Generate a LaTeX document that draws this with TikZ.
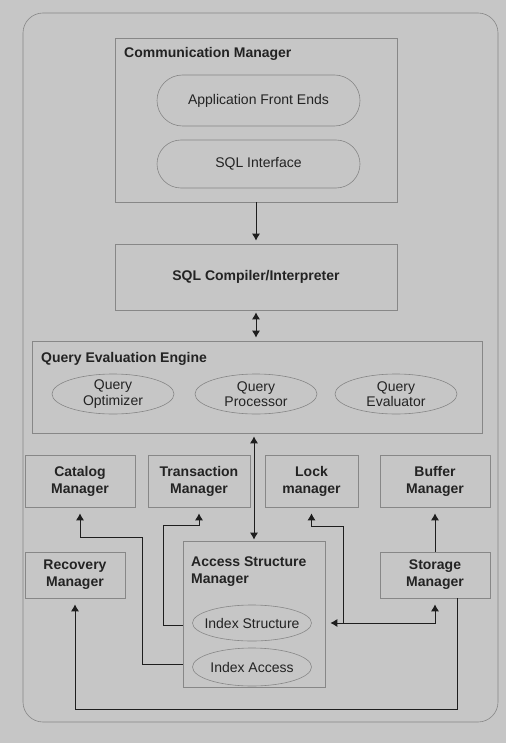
\documentclass[tikz,border=0pt]{standalone}
\usepackage{fontspec}
\setmainfont{Liberation Sans}
\usetikzlibrary{shapes.geometric,shapes.misc,arrows.meta}
\definecolor{bg}{RGB}{198,198,198}
\definecolor{edge}{RGB}{135,135,135}
\definecolor{ink}{RGB}{35,35,35}
\definecolor{wire}{RGB}{30,30,30}
\begin{document}
\begin{tikzpicture}[x=1pt,y=-1pt,
  every node/.style={font=\fontsize{14}{15.5}\selectfont, text=ink},
  box/.style={draw=edge, line width=0.6pt, rectangle, inner sep=0pt, align=center,
    font=\fontsize{14}{17}\selectfont\bfseries},
  pill/.style={draw=edge, line width=0.6pt, rounded rectangle, inner sep=0pt},
  oval/.style={draw=edge, line width=0.6pt, ellipse, inner xsep=-8pt, inner ysep=0pt, align=center},
  hd/.style={font=\fontsize{14}{17}\selectfont\bfseries, text=ink, inner sep=0pt},
  wire/.style={draw=wire, line width=0.9pt},
  tip/.style={-{Latex[length=7pt,width=8pt]}},
  both/.style={{Latex[length=7pt,width=8pt]}-{Latex[length=7pt,width=8pt]}},
]
\fill[bg] (0,0) rectangle (506,743);
\useasboundingbox (0,0) rectangle (506,743);
% outer frame
\draw[edge, line width=0.6pt, rounded corners=20pt] (23,13) rectangle (498,722);

% communication layer
\node[box, minimum width=282pt, minimum height=164pt] (comm) at (256,120) {};
\node[hd, anchor=west] (commt) at (124,54) {Communication Manager};
\node[pill, minimum width=203pt, minimum height=51pt] (afe) at (258.5,100.5) {Application Front Ends};
\node[pill, minimum width=203pt, minimum height=48pt] (sqli) at (258.5,164) {SQL Interface};

% compiler
\node[box, minimum width=282pt, minimum height=66pt] (sqlc) at (256,277) {SQL Compiler/Interpreter};

% query evaluation engine
\node[box, minimum width=450pt, minimum height=92pt] (qee) at (257,387) {};
\node[hd, anchor=west] (qeet) at (41,359) {Query Evaluation Engine};
\node[oval, minimum width=122pt, minimum height=40pt] (qopt) at (113,394) {Query\\Optimizer};
\node[oval, minimum width=122pt, minimum height=40pt] (qproc) at (256,394) {Query\\Processor};
\node[oval, minimum width=122pt, minimum height=40pt] (qeval) at (396,394) {Query\\Evaluator};

% managers
\node[box, minimum width=110pt, minimum height=52pt] (catalog) at (80,481) {Catalog\\Manager};
\node[box, minimum width=102pt, minimum height=52pt] (trans) at (199,481) {Transaction\\Manager};
\node[box, minimum width=93pt, minimum height=52pt] (lock) at (311.5,481) {Lock\\manager};
\node[box, minimum width=110pt, minimum height=52pt] (buffer) at (435,481) {Buffer\\Manager};
\node[box, minimum width=100pt, minimum height=46pt] (recovery) at (75,575) {Recovery\\Manager};
\node[box, minimum width=110pt, minimum height=46pt] (storage) at (435,575) {Storage\\Manager};

% access structure manager
\node[box, minimum width=142pt, minimum height=146pt] (asm) at (254,614) {};
\node[hd, anchor=west, align=left] (asmt) at (191,571.5) {Access Structure\\Manager};
\node[oval, minimum width=119pt, minimum height=36pt] (idxs) at (252,623) {Index Structure};
\node[oval, minimum width=119pt, minimum height=38pt] (idxa) at (252,667) {Index Access};

% junction points of the routed wires
\coordinate (jc) at (142,537);
\coordinate (jt) at (163,525);
\coordinate (jl) at (343,526);
\coordinate (jr) at (457,709);

% connectors
\draw[wire,tip,shorten >=3pt] (comm.south) -- (sqlc.north);
\draw[wire,both,shorten <=2pt,shorten >=3pt] (sqlc.south) -- (sqlc.south |- qee.north);
\draw[wire,both,shorten <=3pt,shorten >=1pt] (asm.north |- qee.south) -- (asm.north);
\draw[wire,tip,shorten >=6pt] ([yshift=3pt]asm.west |- idxa.center) -| (jc) -| (catalog.south);
\draw[wire,tip,shorten >=6pt] ([yshift=-2pt]asm.west |- idxs.center) -| (jt) -| (trans.south);
\draw[wire,tip,shorten >=6pt] (jl |- idxs.center) -- (jl) -| (lock.south);
\draw[wire,both,shorten <=5pt,shorten >=6pt] (asm.east |- idxs.center) -| (storage.south);
\draw[wire,tip,shorten >=6pt] (storage.north) -- (buffer.south);
\draw[wire,tip,shorten >=6pt] (storage.south -| jr) -- (jr) -| (recovery.south);
\end{tikzpicture}
\end{document}
